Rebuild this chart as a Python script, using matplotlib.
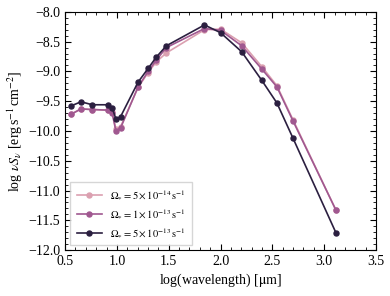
import matplotlib
matplotlib.use("Agg")
import matplotlib.pyplot as plt
from matplotlib.ticker import MultipleLocator

# Daten
log_wave = [0.556, 0.653, 0.763, 0.912, 0.954, 0.99, 1.035, 1.204, 1.301, 1.380, 1.477,
            1.845, 2.0, 2.204, 2.398, 2.544, 2.699, 3.114]
sed_5e14 = [-9.72, -9.63, -9.64, -9.65, -9.68, -9.97, -9.93, -9.27, -9.02, -8.84, -8.69,
            -8.30, -8.29, -8.52, -8.92, -9.24, -9.81, -11.33]
sed_1e13 = [-9.72, -9.63, -9.64, -9.65, -9.70, -10.00, -9.95, -9.26, -9.00, -8.81, -8.60,
            -8.28, -8.31, -8.57, -8.96, -9.26, -9.83, -11.33]
sed_5e13 = [-9.58, -9.51, -9.56, -9.56, -9.61, -9.80, -9.76, -9.18, -8.95, -8.76, -8.57,
            -8.22, -8.35, -8.67, -9.15, -9.53, -10.12, -11.71]
labels = [r"$\Omega_{*} = 5\times10^{-14}\,\mathrm{s}^{-1}$",
          r"$\Omega_{*} = 1\times10^{-13}\,\mathrm{s}^{-1}$",
          r"$\Omega_{*} = 5\times10^{-13}\,\mathrm{s}^{-1}$"]
colors = ["#dba0b0", "#a05890", "#2b1f40"]

plt.rcParams["font.family"] = "Liberation Serif"
plt.rcParams["mathtext.fontset"] = "stix"

fig = plt.figure(figsize=(3.9, 2.96), dpi=100)
ax = fig.add_axes([0.167, 0.155, 0.797, 0.805])

for ys, lab, c in zip([sed_5e14, sed_1e13, sed_5e13], labels, colors):
    ax.plot(log_wave, ys, "-o", color=c, lw=1.2, ms=3.6, label=lab)

ax.set_xlim(0.5, 3.5)
ax.set_ylim(-12.0, -8.0)
ax.xaxis.set_major_locator(MultipleLocator(0.5))
ax.xaxis.set_minor_locator(MultipleLocator(0.1))
ax.yaxis.set_major_locator(MultipleLocator(0.5))
ax.yaxis.set_minor_locator(MultipleLocator(0.1))
ax.tick_params(which="both", direction="in", top=True, right=True, labelsize=10)
ax.tick_params(which="major", length=4)
ax.tick_params(which="minor", length=2)

ax.set_xlabel(r"log(wavelength) [$\mathrm{\mu m}$]", fontsize=10, labelpad=3)
ax.set_ylabel(r"log $\nu S_{\nu}$ [erg$\,$s$^{-1}\,$cm$^{-2}$]", fontsize=10, labelpad=2)

ax.legend(loc="lower left", fontsize=7.5, fancybox=False, edgecolor="#cccccc",
          handlelength=2.4, borderpad=0.6, labelspacing=0.6)

fig.savefig("out.png", dpi=100)
